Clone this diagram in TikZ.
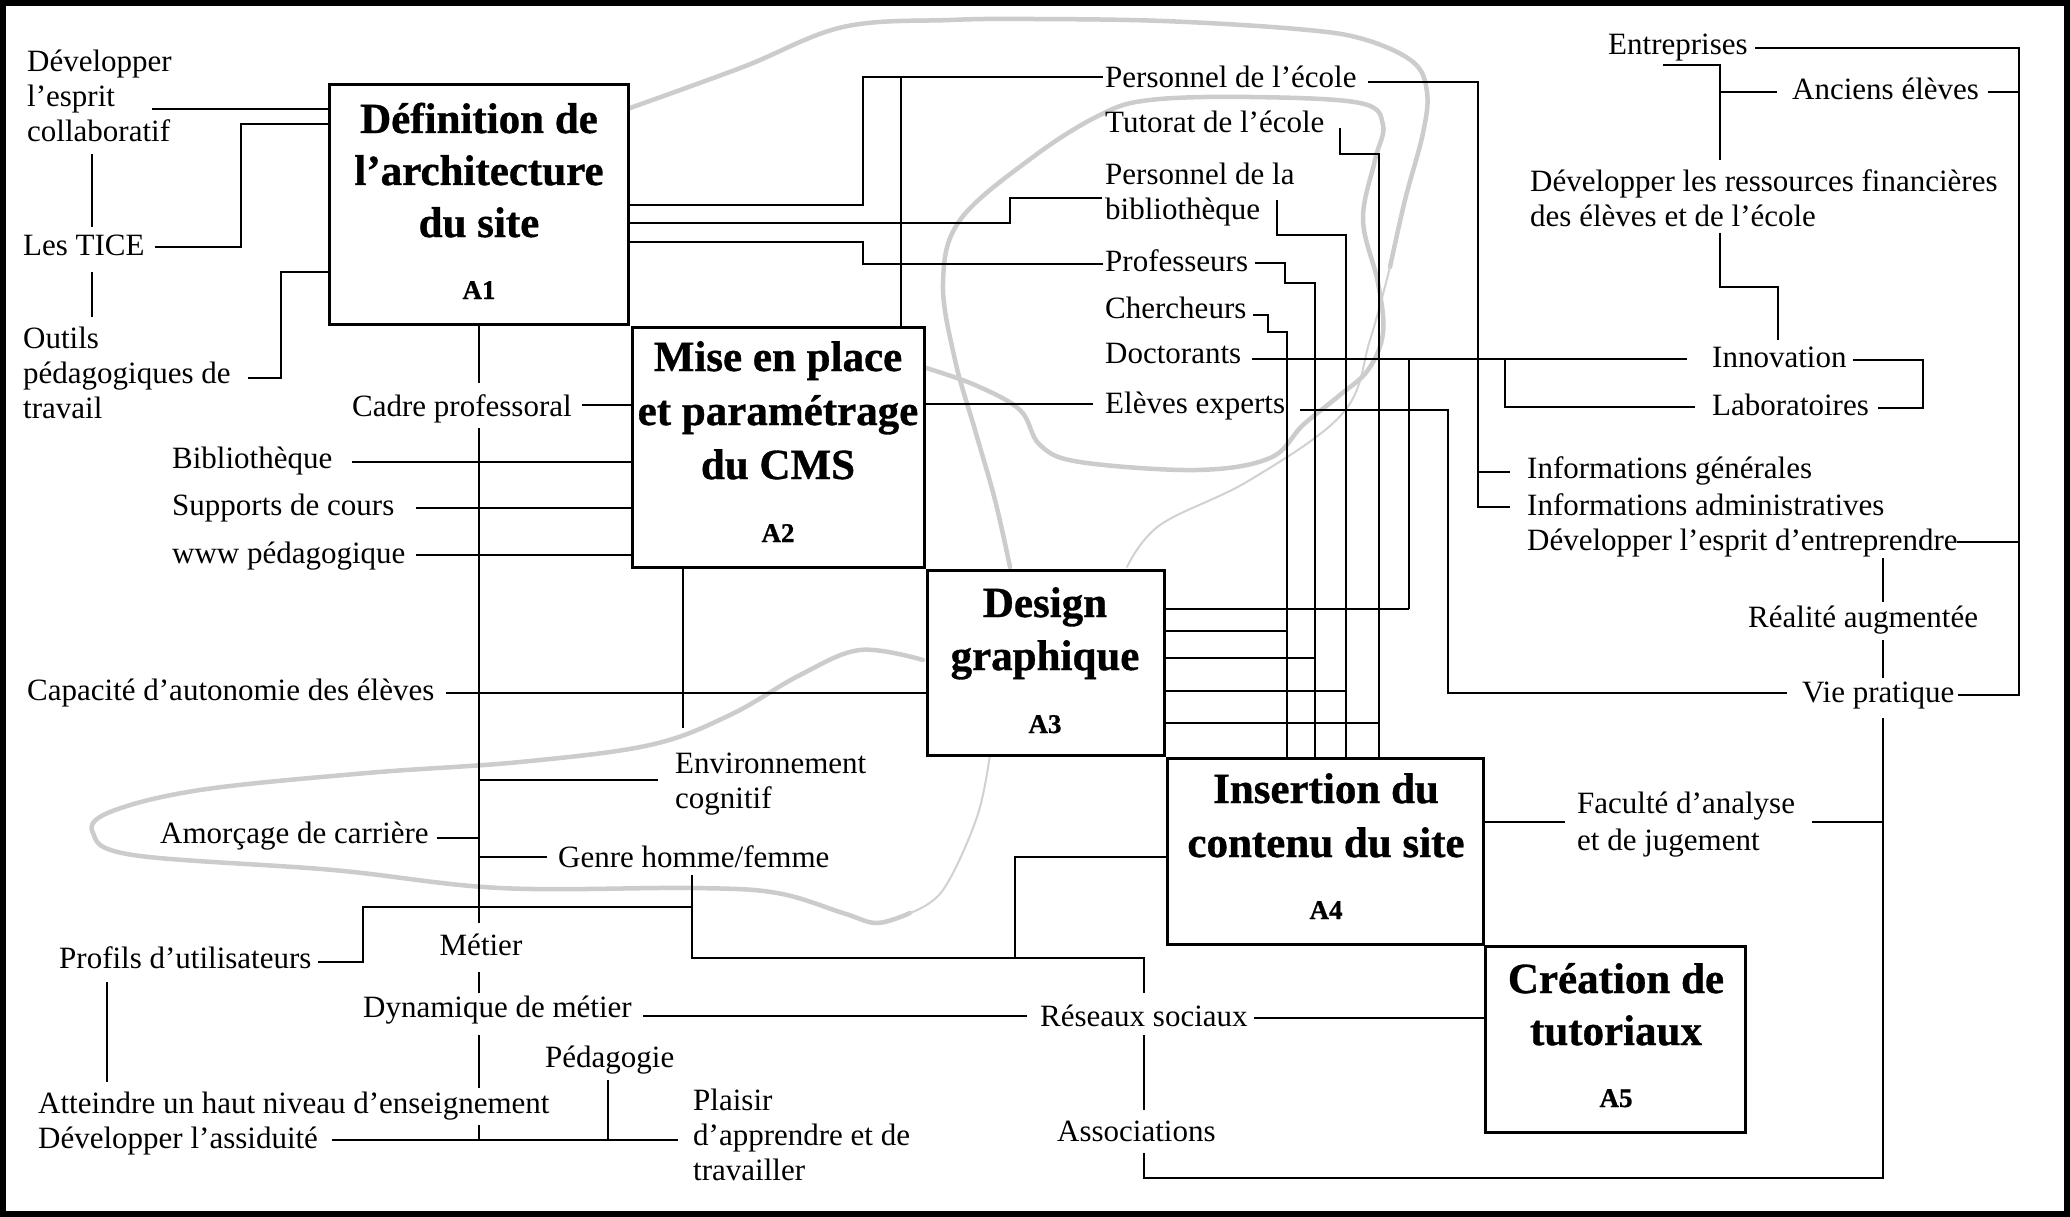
\documentclass[tikz,border=0pt]{standalone}
\usepackage{fontspec}
\setmainfont{Liberation Serif}
\newfontface\myHeavy{Liberation Serif Bold}[FakeBold=0.8]
\newcommand\myLbl{\fontsize{31}{35}\selectfont}
\newcommand\myTtl{\fontsize{43}{48}\selectfont\myHeavy}
\newcommand\myCode{\fontsize{27}{30}\selectfont\myHeavy}
\begin{document}
\begin{tikzpicture}[x=1pt,y=-1pt,
  conn/.style={line width=2pt, black},
  box/.style={draw, fill=white, line width=3pt, inner sep=0pt, anchor=north west},
  lbl/.style={inner sep=0pt, anchor=base west, font=\myLbl},
  clbl/.style={inner sep=0pt, anchor=base, font=\myLbl},
  ttl/.style={inner sep=0pt, anchor=base, font=\myTtl},
  code/.style={inner sep=0pt, anchor=base, font=\myCode},
  lasso/.style={line width=4.5pt, color=black!20, line cap=round, line join=round},
  thinlasso/.style={line width=2pt, color=black!18, line cap=round}]
\useasboundingbox (0,0) rectangle (2070,1217);
\fill[white] (0,0) rectangle (2070,1217);

% grey lassos
\draw[lasso] plot[smooth, tension=0.6] coordinates {(630,108) (743,67) (843,27) (950,20) (1033,19) (1163,21) (1297,29) (1363,39) (1413,62) (1427,92) (1423,133) (1405,200) (1390,267)};
\draw[thinlasso] plot[smooth, tension=0.6] coordinates {(1390,267) (1370,340) (1343,413) (1250,480) (1160,525) (1127,567)};
\draw[lasso] plot[smooth, tension=0.6] coordinates {(923,367) (975,385) (1020,410) (1040,445) (1080,462) (1197,470) (1270,458) (1303,425) (1340,395) (1368,370) (1383,333) (1378,283) (1363,220) (1375,160) (1383,125) (1360,103) (1250,97) (1150,100) (1100,115) (1033,157) (960,220) (943,283) (955,360) (975,430) (995,500) (1010,567)};
\draw[lasso] plot[smooth, tension=0.6] coordinates {(923,660) (860,650) (800,675) (730,715) (650,745) (520,762) (367,773) (200,790) (110,812) (93,833) (133,855) (333,870) (500,888) (693,888) (777,893) (843,913) (877,923) (910,913)};
\draw[thinlasso] plot[smooth, tension=0.6] coordinates {(910,913) (943,890) (977,817) (990,754)};

% boxes
\node[box, minimum width=299pt, minimum height=240pt] (A1) at (328,83) {};
\node[box, minimum width=292pt, minimum height=240pt] (A2) at (631,326) {};
\node[box, minimum width=237pt, minimum height=185pt] (A3) at (926,569) {};
\node[box, minimum width=316pt, minimum height=186pt] (A4) at (1166,757) {};
\node[box, minimum width=260pt, minimum height=186pt] (A5) at (1484,945) {};

\node[ttl] (A1a) at (479,133) {Définition de};
\node[ttl] (A1b) at (479,185) {l’architecture};
\node[ttl] (A1c) at (479,237) {du site};
\node[code] (A1d) at (479,299) {A1};
\node[ttl] (A2a) at (778,371) {Mise en place};
\node[ttl] (A2b) at (778,425) {et paramétrage};
\node[ttl] (A2c) at (778,479) {du CMS};
\node[code] (A2d) at (778,542) {A2};
\node[ttl] (A3a) at (1045,617) {Design};
\node[ttl] (A3b) at (1045,670) {graphique};
\node[code] (A3d) at (1045,733) {A3};
\node[ttl] (A4a) at (1326,803) {Insertion du};
\node[ttl] (A4b) at (1326,857) {contenu du site};
\node[code] (A4d) at (1326,919) {A4};
\node[ttl] (A5a) at (1616,993) {Création de};
\node[ttl] (A5b) at (1616,1045) {tutoriaux};
\node[code] (A5d) at (1616,1107) {A5};

% labels
\node[lbl] (dev1) at (27,72) {Développer};
\node[lbl] (dev2) at (27,107) {l’esprit};
\node[lbl] (dev3) at (27,142) {collaboratif};
\node[lbl] (tice) at (23,255) {Les TICE};
\node[lbl] (out1) at (23,348) {Outils};
\node[lbl] (out2) at (23,383) {pédagogiques de};
\node[lbl] (out3) at (23,418) {travail};
\node[lbl] (cadre) at (352,416) {Cadre professoral};
\node[lbl] (bib) at (172,468) {Bibliothèque};
\node[lbl] (sup) at (172,515) {Supports de cours};
\node[lbl] (www) at (172,563) {www pédagogique};
\node[lbl] (cap) at (27,700) {Capacité d’autonomie des élèves};
\node[lbl] (env1) at (675,773) {Environnement};
\node[lbl] (env2) at (675,808) {cognitif};
\node[lbl] (amo) at (160,843) {Amorçage de carrière};
\node[lbl] (genre) at (558,867) {Genre homme/femme};
\node[lbl] (prof) at (59,968) {Profils d’utilisateurs};
\node[clbl] (metier) at (481,955) {Métier};
\node[lbl] (dyn) at (363,1017) {Dynamique de métier};
\node[lbl] (att) at (38,1113) {Atteindre un haut niveau d’enseignement};
\node[lbl] (ass) at (38,1148) {Développer l’assiduité};
\node[lbl] (peda) at (545,1067) {Pédagogie};
\node[lbl] (pl1) at (693,1110) {Plaisir};
\node[lbl] (pl2) at (693,1145) {d’apprendre et de};
\node[lbl] (pl3) at (693,1180) {travailler};
\node[lbl] (res) at (1040,1026) {Réseaux sociaux};
\node[lbl] (asso) at (1057,1141) {Associations};
\node[lbl] (fac1) at (1577,813) {Faculté d’analyse};
\node[lbl] (fac2) at (1577,850) {et de jugement};
\node[lbl] (vie) at (1802,702) {Vie pratique};
\node[lbl] (real) at (1748,627) {Réalité augmentée};
\node[lbl] (inf1) at (1527,478) {Informations générales};
\node[lbl] (inf2) at (1527,515) {Informations administratives};
\node[lbl] (dev4) at (1527,550) {Développer l’esprit d’entreprendre};
\node[lbl] (labo) at (1712,415) {Laboratoires};
\node[lbl] (inno) at (1712,367) {Innovation};
\node[lbl] (rf1) at (1530,192) {Développer les ressources financières};
\node[lbl] (rf2) at (1530,227) {des élèves et de l’école};
\node[lbl] (anc) at (1792,100) {Anciens élèves};
\node[lbl] (ent) at (1608,55) {Entreprises};
\node[lbl] (p1) at (1105,88) {Personnel de l’école};
\node[lbl] (p2) at (1105,133) {Tutorat de l’école};
\node[lbl] (p3) at (1105,185) {Personnel de la};
\node[lbl] (p4) at (1105,220) {bibliothèque};
\node[lbl] (p5) at (1105,272) {Professeurs};
\node[lbl] (p6) at (1105,318) {Chercheurs};
\node[lbl] (p7) at (1105,363) {Doctorants};
\node[lbl] (p8) at (1105,413) {Elèves experts};

% connectors: left of A1
\draw[conn] (152,109) -- (A1.west |- 0,109);
\draw[conn] (155,247) -- (241,247) -- (241,124) -- (A1.west |- 0,124);
\draw[conn] (248,378) -- (281,378) -- (281,272) -- (A1.west |- 0,272);
\draw[conn] (92,154) -- (92,227);
\draw[conn] (92,272) -- (92,317);
% A1 to right
\draw[conn] (A1.east |- 0,205) -- (863,205) -- (863,77) -- (1103,77);
\draw[conn] (901,77) -- (A2.north -| 901,0);
\draw[conn] (A1.east |- 0,223) -- (1010,223) -- (1010,198) -- (1102,198);
\draw[conn] (A1.east |- 0,242) -- (863,242) -- (863,264) -- (1103,264);
% A1 bottom column
\draw[conn] (A1.south -| 479,0) -- (479,383);
\draw[conn] (479,428) -- (479,923);
\draw[conn] (479,972) -- (479,993);
\draw[conn] (479,1035) -- (479,1088);
\draw[conn] (479,1125) -- (479,1140);
% A2 inputs
\draw[conn] (582,405) -- (A2.west |- 0,405);
\draw[conn] (352,462) -- (A2.west |- 0,462);
\draw[conn] (416,508) -- (A2.west |- 0,508);
\draw[conn] (416,555) -- (A2.west |- 0,555);
\draw[conn] (923,404) -- (1093,404);
\draw[conn] (A2.south -| 683,0) -- (683,728);
% A3 left
\draw[conn] (446,693) -- (A3.west |- 0,693);
% lower left
\draw[conn] (479,780) -- (658,780);
\draw[conn] (437,838) -- (479,838);
\draw[conn] (479,857) -- (547,857);
\draw[conn] (318,962) -- (363,962) -- (363,907) -- (692,907);
\draw[conn] (692,875) -- (692,958) -- (1144,958) -- (1144,993);
\draw[conn] (1015,958) -- (1015,857) -- (A4.west |- 0,857);
\draw[conn] (107,982) -- (107,1082);
\draw[conn] (332,1140) -- (678,1140);
\draw[conn] (608,1080) -- (608,1140);
\draw[conn] (643,1016) -- (1027,1016);
\draw[conn] (1254,1018) -- (A5.west |- 0,1018);
\draw[conn] (1144,1035) -- (1144,1110);
\draw[conn] (1144,1153) -- (1144,1178) -- (1883,1178) -- (1883,718);
\draw[conn] (A4.east |- 0,822) -- (1565,822);
\draw[conn] (1812,822) -- (1883,822);
% personnel column to A3/A4
\draw[conn] (1340,128) -- (1340,154) -- (1379,154) -- (A4.north -| 1379,0);
\draw[conn] (1277,200) -- (1277,235) -- (1346,235) -- (A4.north -| 1346,0);
\draw[conn] (1255,263) -- (1285,263) -- (1285,283) -- (1315,283) -- (A4.north -| 1315,0);
\draw[conn] (1253,315) -- (1268,315) -- (1268,332) -- (1287,332) -- (A4.north -| 1287,0);
\draw[conn] (1252,359) -- (1687,359);
\draw[conn] (1409,359) -- (1409,609);
\draw[conn] (1505,359) -- (1505,407) -- (1695,407);
\draw[conn] (A3.east |- 0,609) -- (1409,609);
\draw[conn] (A3.east |- 0,631) -- (1287,631);
\draw[conn] (A3.east |- 0,658) -- (1315,658);
\draw[conn] (A3.east |- 0,691) -- (1346,691);
\draw[conn] (A3.east |- 0,723) -- (1379,723);
\draw[conn] (1368,82) -- (1478,82) -- (1478,507) -- (1510,507);
\draw[conn] (1478,472) -- (1510,472);
\draw[conn] (1300,410) -- (1448,410) -- (1448,693) -- (1787,693);
% right side
\draw[conn] (1853,360) -- (1923,360) -- (1923,408) -- (1878,408);
\draw[conn] (1755,48) -- (2019,48) -- (2019,695) -- (1958,695);
\draw[conn] (1988,92) -- (2019,92);
\draw[conn] (1957,542) -- (2019,542);
\draw[conn] (1663,65) -- (1720,65) -- (1720,160);
\draw[conn] (1720,92) -- (1777,92);
\draw[conn] (1720,233) -- (1720,287) -- (1778,287) -- (1778,340);
\draw[conn] (1883,558) -- (1883,602);
\draw[conn] (1883,640) -- (1883,678);

% frame
\draw[line width=6pt] (3,3) rectangle (2067,1214);
\end{tikzpicture}
\end{document}
